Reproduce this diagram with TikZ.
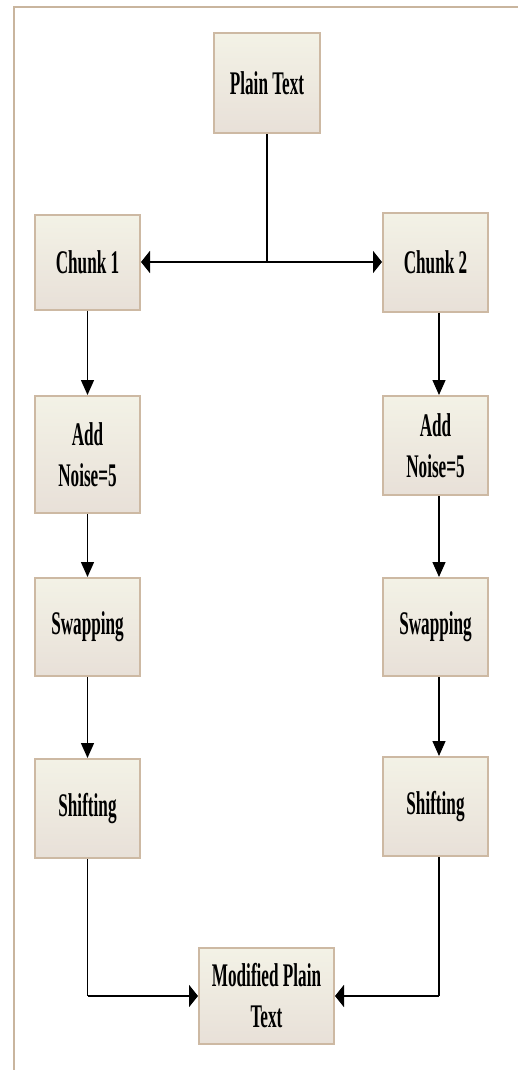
\documentclass[tikz,border=0pt]{standalone}
\usepackage{fontspec}
\newfontfamily\boxfont[FakeStretch=0.52]{Liberation Serif}
\usetikzlibrary{arrows.meta,calc}
\definecolor{frameC}{RGB}{201,181,158}
\definecolor{boxTop}{RGB}{243,242,230}
\definecolor{boxBot}{RGB}{232,224,216}
\definecolor{boxLine}{RGB}{205,185,163}
\begin{document}
\begin{tikzpicture}[x=1pt,y=-1pt,
  stepbox/.style={draw=boxLine,line width=2pt,top color=boxTop,bottom color=boxBot,
    minimum width=105pt,align=center,inner sep=2pt,
    font=\boxfont\bfseries\fontsize{33}{41}\selectfont,text=black},
  vline/.style={line width=1.3pt,-{Triangle[length=15pt,width=13pt]}},
  hline/.style={line width=2pt,-{Triangle[length=9pt,width=22pt]}}]
\useasboundingbox (0,0) rectangle (518,1070);
% frame
\draw[frameC,line width=1.6pt] (14,1070) -- (14,7) -- (518,7);
% nodes
\node[stepbox,minimum height=100pt,minimum width=106pt] (pt) at (267,83) {Plain Text};
\node[stepbox,minimum height=95pt] (c1) at (87.5,262) {Chunk 1};
\node[stepbox,minimum height=99pt] (c2) at (435.5,262) {Chunk 2};
\node[stepbox,minimum height=117pt] (a1) at (87.5,454.5) {Add\\Noise=5};
\node[stepbox,minimum height=99pt] (a2) at (435.5,445.5) {Add\\Noise=5};
\node[stepbox,minimum height=98pt] (s1) at (87.5,627) {Swapping};
\node[stepbox,minimum height=98pt] (s2) at (435.5,627) {Swapping};
\node[stepbox,minimum height=99pt] (h1) at (87.5,808.5) {Shifting};
\node[stepbox,minimum height=99pt] (h2) at (435.5,806.5) {Shifting};
\node[stepbox,minimum height=96pt,minimum width=135pt] (mp) at (266.5,996) {Modified Plain\\Text};
% connectors
\coordinate (rx) at (439,0);
\coordinate (split) at (267,262);
\draw[line width=1.3pt] (pt.south) -- (split);
\draw[hline] (split) -- (c1.east);
\draw[hline] (split) -- (c2.west);
\draw[vline] (c1.south) -- (a1.north);
\draw[vline] (a1.south) -- (s1.north);
\draw[vline] (s1.south) -- (h1.north);
\draw[vline] (c2.south -| rx) -- (a2.north -| rx);
\draw[vline] (a2.south -| rx) -- (s2.north -| rx);
\draw[vline] (s2.south -| rx) -- (h2.north -| rx);
\draw[line width=1.3pt] (h1.south) -- (h1.south |- mp.west);
\draw[hline] (h1.south |- mp.west) -- (mp.west);
\draw[line width=1.3pt] (h2.south -| rx) -- (rx |- mp.east);
\draw[hline] (rx |- mp.east) -- (mp.east);
\end{tikzpicture}
\end{document}
